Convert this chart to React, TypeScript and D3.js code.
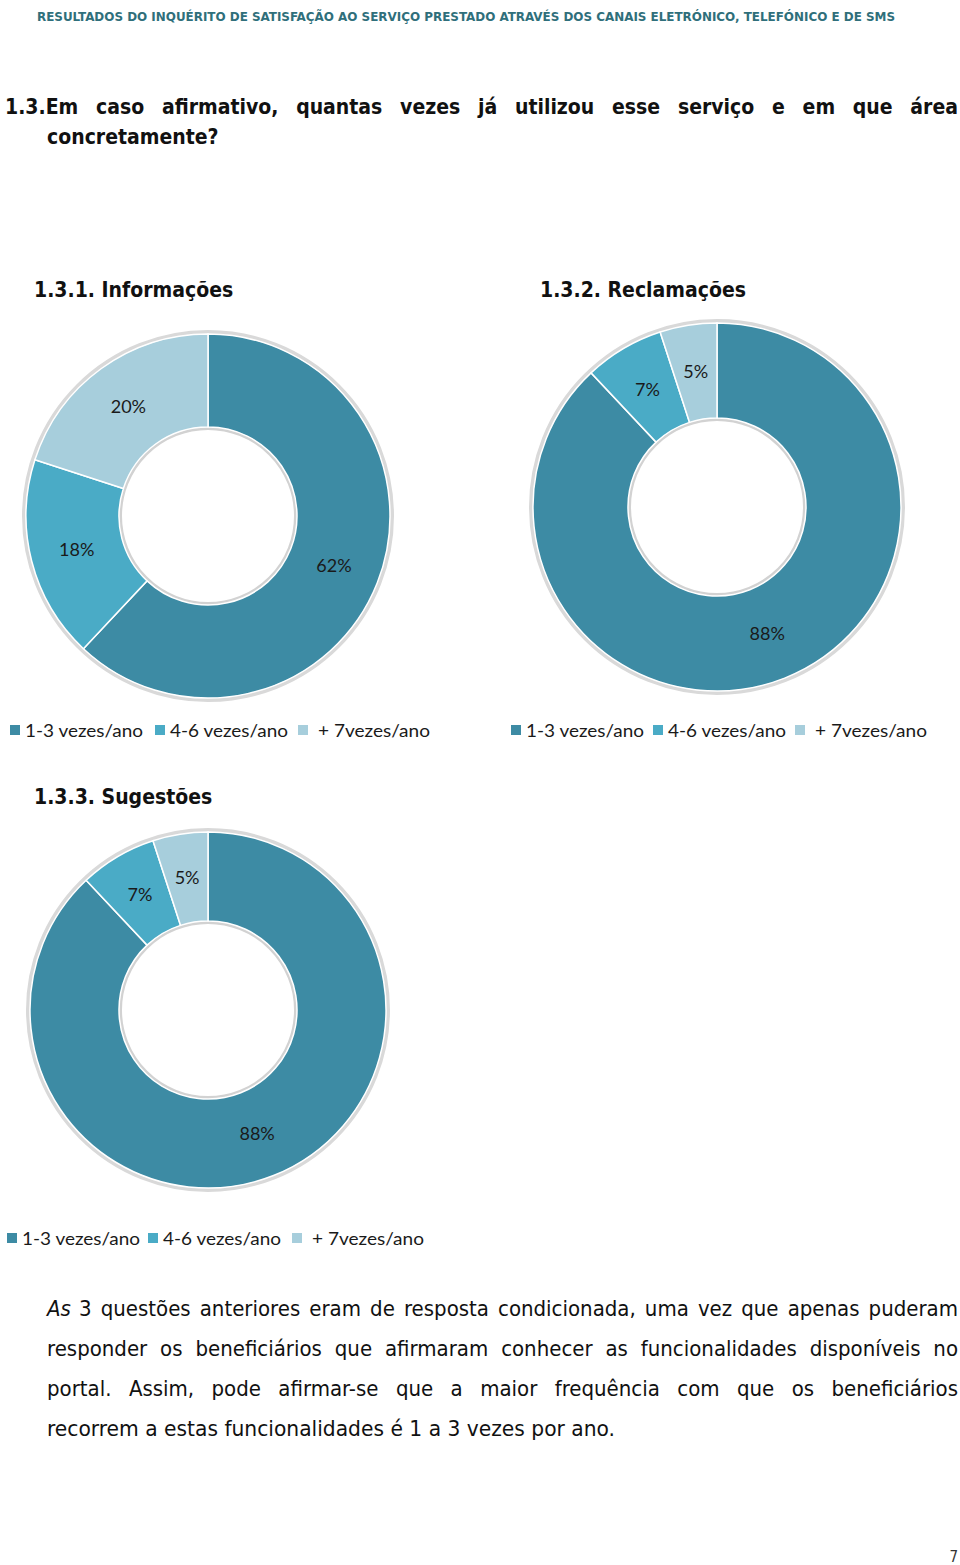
import { useEffect, useRef } from 'react';
import * as d3 from 'd3';

// legend / series categories
const categories = ['1-3 vezes/ano', '4-6 vezes/ano', '+ 7vezes/ano'];
const colors = ['#3d8ba4', '#4aabc6', '#a7cedc'];

// share of answers per chart (%)
const informacoes = [62, 18, 20];
const reclamacoes = [88, 7, 5];
const sugestoes = [88, 7, 5];

const chartTitles = ['1.3.1. Informações', '1.3.2. Reclamações', '1.3.3. Sugestões'];

const headerText =
    'RESULTADOS DO INQUÉRITO DE SATISFAÇÃO AO SERVIÇO PRESTADO ATRAVÉS DOS CANAIS ELETRÓNICO, TELEFÓNICO E DE SMS';
const questionLines = [
    '1.3.Em caso afirmativo, quantas vezes já utilizou esse serviço e em que área',
    'concretamente?',
];
const bodyLines = [
    '3 questões anteriores eram de resposta condicionada, uma vez que apenas puderam',
    'responder os beneficiários que afirmaram conhecer as funcionalidades disponíveis no',
    'portal. Assim, pode afirmar-se que a maior frequência com que os beneficiários',
    'recorrem a estas funcionalidades é 1 a 3 vezes por ano.',
];

type Sel = d3.Selection<SVGSVGElement, unknown, null, undefined>;

// lay words out so the line fills exactly [x, x + width]
function justify(svg: Sel, line: string, x: number, y: number, width: number, attrs: Record<string, string | number>) {
    const words = line.split(' ');
    const nodes = words.map(w => {
        const t = svg.append('text').attr('y', y).text(w);
        Object.entries(attrs).forEach(([k, v]) => t.attr(k, v));
        return t;
    });
    const widths = nodes.map(n => (n.node() as SVGTextElement).getComputedTextLength());
    const total = d3.sum(widths);
    const gap = words.length > 1 ? (width - total) / (words.length - 1) : 0;
    let cx = x;
    nodes.forEach((n, i) => {
        n.attr('x', cx);
        cx += widths[i] + gap;
    });
}

export default function App() {
    const svgRef = useRef<SVGSVGElement | null>(null);

    useEffect(() => {
        if (!svgRef.current) return;
        const svg = d3.select(svgRef.current) as Sel;
        svg.selectAll('*').remove();

        const font = '"DejaVu Sans Condensed", "DejaVu Sans", sans-serif';
        const chartFont = 'Lato, "Open Sans", sans-serif';

        // page header
        svg.append('text')
            .attr('x', 37).attr('y', 21)
            .attr('font-family', font).attr('font-size', 12).attr('font-weight', 'bold')
            .attr('fill', '#2f6f7b')
            .attr('textLength', 858).attr('lengthAdjust', 'spacingAndGlyphs')
            .text(headerText);

        // question
        const qAttrs = { 'font-family': font, 'font-size': 21, 'font-weight': 'bold', fill: '#111' };
        justify(svg, questionLines[0], 5, 114, 953, qAttrs);
        svg.append('text')
            .attr('x', 47).attr('y', 144)
            .attr('font-family', font).attr('font-size', 21).attr('font-weight', 'bold')
            .attr('fill', '#111')
            .text(questionLines[1]);

        const charts = [
            { data: informacoes, cx: 208, cy: 516, r: 182, title: chartTitles[0], tx: 34, ty: 297, ly: 730, lx: [10, 155, 298] },
            { data: reclamacoes, cx: 717, cy: 507, r: 184, title: chartTitles[1], tx: 540, ty: 297, ly: 730, lx: [511, 653, 795] },
            { data: sugestoes, cx: 208, cy: 1010, r: 178, title: chartTitles[2], tx: 34, ty: 804, ly: 1238, lx: [7, 148, 292] },
        ];

        const pie = d3.pie<number>().sort(null).value(d => d);
        const legendWidths = [118, 118, 112];

        charts.forEach(c => {
            svg.append('text')
                .attr('x', c.tx).attr('y', c.ty)
                .attr('font-family', font).attr('font-size', 21).attr('font-weight', 'bold')
                .attr('fill', '#111')
                .text(c.title);

            const inner = 89;
            const g = svg.append('g').attr('transform', `translate(${c.cx},${c.cy})`);

            // soft bevel rings
            g.append('circle').attr('r', c.r + 2).attr('fill', 'none')
                .attr('stroke', '#d9d9d9').attr('stroke-width', 4);
            g.append('circle').attr('r', inner - 1.5).attr('fill', 'none')
                .attr('stroke', '#d2d2d2').attr('stroke-width', 3);

            const arc = d3.arc<d3.PieArcDatum<number>>().innerRadius(inner).outerRadius(c.r);
            const arcs = pie(c.data);

            g.selectAll('path.slice')
                .data(arcs)
                .join('path')
                .attr('class', 'slice')
                .attr('d', arc)
                .attr('fill', (_, i) => colors[i])
                .attr('stroke', '#fff')
                .attr('stroke-width', 1.5);

            g.selectAll('text.lbl')
                .data(arcs)
                .join('text')
                .attr('class', 'lbl')
                .attr('transform', d => `translate(${arc.centroid(d)})`)
                .attr('text-anchor', 'middle')
                .attr('dy', '0.35em')
                .attr('font-family', chartFont).attr('font-size', 18)
                .attr('fill', '#1a1a1a')
                .text(d => `${d.data}%`);

            // legend
            categories.forEach((cat, i) => {
                const x = c.lx[i];
                svg.append('rect')
                    .attr('x', x).attr('y', c.ly - 5).attr('width', 10).attr('height', 10)
                    .attr('fill', colors[i]);
                svg.append('text')
                    .attr('x', x + (i === 2 ? 20 : 15)).attr('y', c.ly + 7)
                    .attr('font-family', chartFont).attr('font-size', 18)
                    .attr('fill', '#1a1a1a')
                    .attr('textLength', legendWidths[i]).attr('lengthAdjust', 'spacingAndGlyphs')
                    .text(cat);
            });
        });

        // closing paragraph (justified)
        const bAttrs = { 'font-family': font, 'font-size': 22, fill: '#111' };
        svg.append('text')
            .attr('x', 47).attr('y', 1316)
            .attr('font-family', font).attr('font-size', 22).attr('font-style', 'italic')
            .attr('fill', '#111')
            .text('As');
        justify(svg, bodyLines[0], 79, 1316, 879, bAttrs);
        justify(svg, bodyLines[1], 47, 1356, 911, bAttrs);
        justify(svg, bodyLines[2], 47, 1396, 911, bAttrs);
        svg.append('text')
            .attr('x', 47).attr('y', 1436)
            .attr('font-family', font).attr('font-size', 22)
            .attr('fill', '#111')
            .attr('textLength', 568).attr('lengthAdjust', 'spacingAndGlyphs')
            .text(bodyLines[3]);

        // page number
        svg.append('text')
            .attr('x', 958).attr('y', 1562)
            .attr('text-anchor', 'end')
            .attr('font-family', font).attr('font-size', 15)
            .attr('fill', '#333')
            .text('7');
    }, []);

    return (
        <svg
            ref={svgRef}
            width={960}
            height={1565}
            style={{ position: 'absolute', left: 0, top: 0, background: '#fff' }}
        />
    );
}
